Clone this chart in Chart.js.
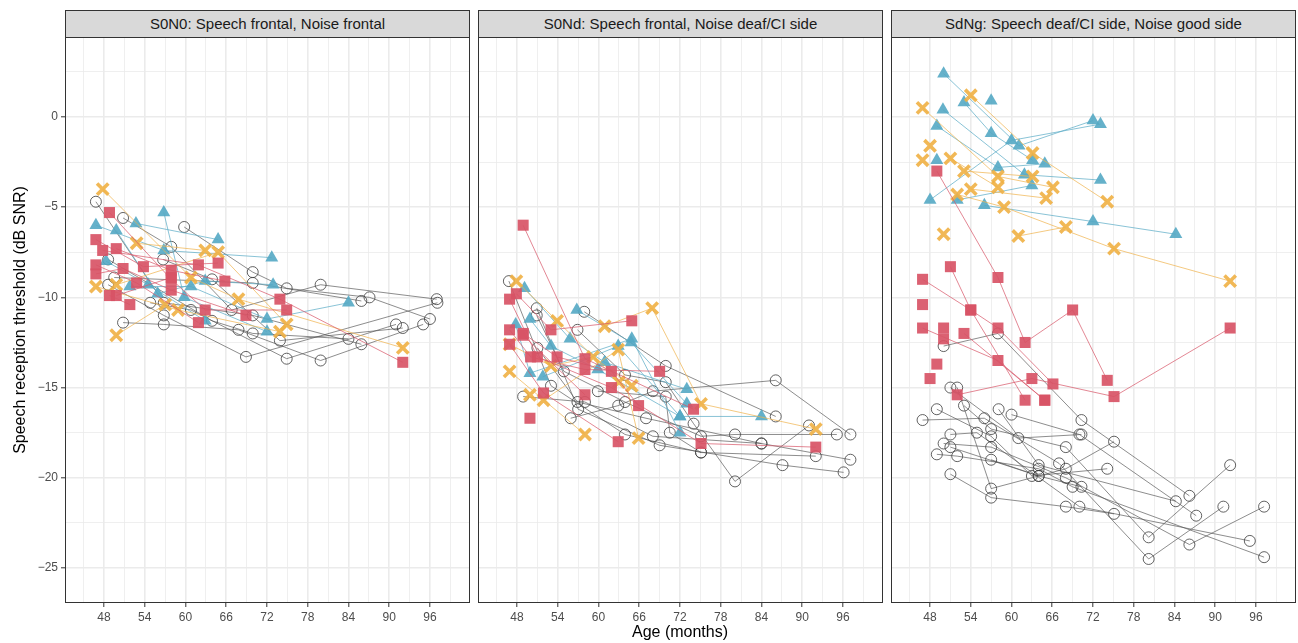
<!DOCTYPE html>
<html><head><meta charset="utf-8">
<script src="https://cdn.jsdelivr.net/npm/chart.js@4.4.0/dist/chart.umd.min.js"></script>
<style>
body{margin:0;width:1298px;height:643px;background:#fff;position:relative;overflow:hidden;font-family:"Liberation Sans",Arial,sans-serif;}
.strip{position:absolute;top:10px;height:28px;width:405px;background:#D9D9D9;border:1px solid #333;box-sizing:border-box;font-size:15px;color:#1a1a1a;text-align:center;line-height:25px;white-space:nowrap;}
canvas{position:absolute;}
#xt{position:absolute;left:480px;width:400px;top:623px;text-align:center;font-size:16px;color:#000;}
#yt{position:absolute;left:20px;top:320px;width:400px;margin-left:-200px;text-align:center;font-size:16px;color:#000;transform:translateY(-50%) rotate(-90deg);}
</style></head>
<body>
<div class="strip" style="left:65px" id="s1"></div>
<div class="strip" style="left:478px" id="s2"></div>
<div class="strip" style="left:891px" id="s3"></div>
<canvas id="c1" width="474" height="614" style="left:0px;top:29px"></canvas>
<canvas id="c2" width="413" height="614" style="left:474px;top:29px"></canvas>
<canvas id="c3" width="413" height="614" style="left:887px;top:29px"></canvas>
<div id="xt">Age (months)</div>
<div id="yt">Speech reception threshold (dB SNR)</div>
<script>
// ---- labels ----
const panelTitles = ["S0N0: Speech frontal, Noise frontal", "S0Nd: Speech frontal, Noise deaf/CI side", "SdNg: Speech deaf/CI side, Noise good side"];
const xMajorTicks = [48, 54, 60, 66, 72, 78, 84, 90, 96];
const yMajorTicks = [0, -5, -10, -15, -20, -25];
const xTitle = "Age (months)";
const yTitle = "Speech reception threshold (dB SNR)";

// ---- data: each inner array = one child's trajectory [age (months), SRT (dB SNR)] ----
// Panel 1: S0N0
const s0n0Grey = [
 [[46.8,-4.7],[56.8,-10.3],[69.9,-11.0],[85.9,-12.6]],
 [[50.8,-5.6],[57.9,-7.2],[66.8,-10.7],[79.9,-9.3],[97.0,-10.1]],
 [[59.8,-6.1],[69.9,-8.6],[74.9,-9.5],[87.1,-10.0],[96.0,-11.2]],
 [[56.7,-7.9],[63.9,-9.0],[73.9,-12.4],[92.0,-11.7]],
 [[48.6,-9.3],[56.8,-11.0],[68.9,-13.3],[97.1,-10.3]],
 [[54.8,-10.3],[60.8,-10.7],[74.9,-13.4],[91.0,-11.5]],
 [[50.8,-11.4],[56.8,-11.5],[67.8,-11.8],[79.9,-13.5],[95.0,-11.5]],
 [[48.6,-7.9],[63.9,-11.3],[69.9,-12.0],[84.0,-12.3]],
 [[49.5,-8.9],[69.9,-9.2],[85.9,-10.2]]
];
const s0n0Red = [
 [[48.8,-5.3],[57.9,-9.0],[62.9,-10.7],[74.9,-10.7]],
 [[46.8,-6.8],[53.8,-8.3],[64.8,-8.1]],
 [[47.8,-7.4],[61.9,-8.2],[73.9,-10.1],[92.0,-13.6]],
 [[49.8,-7.3],[57.9,-8.5],[65.8,-9.1]],
 [[46.8,-8.2],[52.8,-9.2],[61.9,-11.4]],
 [[46.8,-8.7],[50.8,-8.4],[57.9,-9.6],[68.9,-11.0]],
 [[48.8,-9.9],[51.8,-10.4]],
 [[49.8,-9.9],[57.9,-8.9]]
];
const s0n0Blue = [
 [[46.8,-6.0],[56.8,-7.4],[72.7,-7.8]],
 [[56.8,-5.3],[59.8,-10.0],[72.0,-11.9]],
 [[49.8,-6.3],[55.9,-9.8],[62.9,-9.1],[72.9,-9.3]],
 [[52.7,-5.9],[64.8,-6.8]],
 [[51.8,-9.4],[60.8,-9.4],[72.0,-11.2],[84.0,-10.3]],
 [[48.3,-8.0],[54.5,-9.3],[62.9,-11.3]]
];
const s0n0Orange = [
 [[47.8,-4.0],[60.8,-8.9],[67.8,-10.1],[92.0,-12.8]],
 [[52.8,-7.0],[62.9,-7.4]],
 [[46.8,-9.4],[58.9,-10.7],[73.9,-11.9]],
 [[49.8,-9.3],[64.8,-7.5],[74.9,-11.5]],
 [[49.8,-12.1],[57.0,-10.4]]
];
// Panel 2: S0Nd
const s0ndGrey = [
 [[46.8,-9.1],[53.0,-14.9],[63.9,-17.6],[75.1,-18.6],[92.0,-18.8]],
 [[50.9,-10.6],[57.0,-16.2],[69.0,-18.2],[87.1,-19.3],[96.1,-19.7]],
 [[50.9,-11.0],[54.9,-14.1],[63.9,-15.8],[75.1,-17.7],[80.1,-17.6],[95.1,-17.6]],
 [[51.0,-12.8],[56.9,-15.8],[67.0,-16.7],[84.0,-18.1]],
 [[57.9,-10.8],[69.9,-13.8],[86.1,-16.6]],
 [[56.9,-11.8],[63.9,-14.3],[69.9,-14.7],[74.0,-17.0],[80.1,-20.2],[91.0,-17.1]],
 [[48.9,-15.5],[58.0,-15.8],[68.0,-17.7],[84.0,-18.1],[97.1,-19.0]],
 [[55.9,-16.7],[62.9,-16.0],[68.0,-15.2],[86.1,-14.6],[97.1,-17.6]],
 [[59.9,-15.2],[69.9,-15.5],[70.5,-17.5],[75.1,-18.6]]
];
const s0ndRed = [
 [[48.9,-6.0],[58.0,-13.4],[74.0,-16.2]],
 [[47.9,-9.8],[53.0,-11.8],[64.9,-11.3]],
 [[46.9,-10.1],[51.0,-13.3],[61.9,-15.0],[75.1,-18.1],[92.0,-18.3]],
 [[46.9,-11.8],[50.0,-13.3],[58.0,-14.0],[69.0,-14.1]],
 [[48.9,-12.0],[53.9,-13.3],[61.9,-14.1],[65.9,-16.0]],
 [[46.9,-12.6],[51.9,-15.3],[62.9,-18.0]],
 [[48.9,-12.1],[58.0,-15.4]],
 [[49.9,-16.7]]
];
const s0ndBlue = [
 [[49.1,-9.5],[55.8,-12.3],[60.9,-13.6],[73.0,-15.1]],
 [[49.9,-11.2],[53.0,-12.7],[59.9,-14.0],[72.0,-16.6]],
 [[56.8,-10.7],[64.8,-12.5],[73.0,-15.9]],
 [[47.8,-11.5],[49.9,-14.2],[64.9,-12.3],[72.0,-17.5]],
 [[51.8,-14.4],[62.9,-12.7],[72.0,-16.6],[84.0,-16.6]]
];
const s0ndOrange = [
 [[60.9,-11.6],[67.9,-10.6],[75.1,-15.9],[92.0,-17.3]],
 [[47.9,-9.1],[53.9,-11.3],[63.0,-14.7]],
 [[46.9,-12.6],[53.0,-13.8],[59.2,-13.3],[64.9,-14.9]],
 [[46.9,-14.1],[58.0,-17.6]],
 [[51.9,-15.7],[62.9,-12.9],[65.9,-17.8]],
 [[49.9,-15.4]]
];
// Panel 3: SdNg
const sdngGrey = [
 [[46.9,-16.8],[56.0,-16.7],[67.0,-19.2],[80.2,-24.5],[91.2,-21.6]],
 [[52.0,-15.0],[57.0,-20.6],[68.0,-19.5],[75.1,-18.0]],
 [[50.0,-12.7],[58.0,-12.0],[70.3,-16.8],[86.2,-21.0]],
 [[53.0,-16.0],[57.0,-17.3],[68.0,-18.3],[80.2,-23.3],[92.2,-19.3]],
 [[49.0,-16.2],[57.0,-17.7],[63.0,-19.9],[74.1,-19.5]],
 [[60.0,-16.5],[70.0,-17.6],[87.2,-22.1]],
 [[58.1,-16.2],[64.0,-19.3],[84.2,-21.3]],
 [[51.0,-17.6],[54.9,-17.5],[70.0,-21.6],[95.1,-23.5]],
 [[50.0,-18.1],[57.0,-18.3],[68.0,-20.0],[86.2,-23.7],[97.2,-21.6]],
 [[49.0,-18.7],[52.0,-18.8],[64.0,-19.5],[69.0,-20.5],[97.2,-24.4]],
 [[51.0,-19.8],[57.0,-21.1],[68.0,-21.6],[75.1,-22.0]],
 [[57.0,-19.0],[64.0,-19.9],[70.3,-20.5]],
 [[51.0,-15.0],[61.0,-17.8],[70.3,-17.6]],
 [[51.0,-18.3],[64.0,-19.9]]
];
const sdngRed = [
 [[49.0,-3.0],[58.0,-8.9],[62.0,-12.5],[69.0,-10.7],[74.1,-14.6]],
 [[52.0,-15.4],[63.0,-14.5],[75.1,-15.5],[92.2,-11.7]],
 [[46.9,-9.0],[54.0,-10.7],[58.0,-11.7],[66.1,-14.8]],
 [[51.0,-8.3],[54.0,-10.7],[62.0,-15.7]],
 [[46.9,-11.7],[58.0,-13.5],[64.9,-15.7]],
 [[53.0,-12.0],[64.9,-15.7]],
 [[50.0,-11.7]],[[50.0,-12.3]],[[46.9,-10.4]],[[49.0,-13.7]],[[48.0,-14.5]]
];
const sdngBlue = [
 [[50.0,2.4],[61.1,-1.6],[72.0,-0.2]],
 [[48.0,-4.6],[60.0,-1.3],[73.1,-0.4]],
 [[53.0,0.8],[57.0,-0.9],[63.1,-2.4]],
 [[49.9,0.4],[61.9,-3.2],[73.1,-3.5]],
 [[49.0,-0.5],[58.0,-2.8],[64.9,-2.6]],
 [[52.0,-4.6],[63.0,-3.8]],
 [[56.0,-4.9],[72.0,-5.8],[84.2,-6.5]],
 [[57.0,0.9]],[[49.0,-2.4]]
];
const sdngOrange = [
 [[54.0,1.2],[63.1,-2.0],[74.1,-4.7]],
 [[46.9,0.5],[58.0,-3.3],[66.1,-3.9]],
 [[53.0,-3.0],[63.1,-3.3]],
 [[54.0,-4.0],[65.1,-4.5]],
 [[52.0,-4.3],[58.9,-5.0],[75.1,-7.3],[92.2,-9.1]],
 [[61.0,-6.6],[68.0,-6.1]],
 [[51.0,-2.3],[58.0,-3.9]],
 [[48.0,-1.6]],[[46.9,-2.4]],[[50.0,-6.5]]
];

// ---- styling ----
const FONT = '"Liberation Sans", Arial, sans-serif';
const X_MIN = 42.25, X_MAX = 101.9, Y_MIN = -26.94, Y_MAX = 4.43;
const groupStyles = {
  grey:   {line:'rgba(85,85,85,0.75)', point:{pointStyle:'circle', pointRadius:5.5, pointBackgroundColor:'rgba(0,0,0,0)', pointBorderColor:'rgba(60,60,60,0.8)', pointBorderWidth:1}, order:4},
  blue:   {line:'rgba(90,172,198,0.8)', point:{pointStyle:'triangle', pointRadius:7.5, pointBackgroundColor:'rgba(84,168,196,0.9)', pointBorderColor:'rgba(84,168,196,0.9)', pointBorderWidth:0}, order:3},
  orange: {line:'rgba(240,180,80,0.8)', point:{pointStyle:'crossRot', pointRadius:8, pointBackgroundColor:'rgba(239,176,68,0.9)', pointBorderColor:'rgba(239,176,68,0.9)', pointBorderWidth:3.6}, order:2},
  red:    {line:'rgba(216,88,106,0.8)', point:{pointStyle:'rect', pointRadius:7.8, pointBackgroundColor:'rgba(216,84,102,0.92)', pointBorderColor:'rgba(216,84,102,0.92)', pointBorderWidth:0}, order:1}
};

function buildDatasets(groups){
  const ds = [];
  for (const [g, trajs] of groups){
    const st = groupStyles[g];
    trajs.forEach(t => {
      ds.push(Object.assign({
        data: t.map(p => ({x:p[0], y:p[1]})),
        showLine: true,
        borderColor: st.line,
        borderWidth: 0.9,
        order: st.order
      }, st.point));
    });
  }
  return ds;
}

const boxPlugin = {
  id:'box',
  afterDraw(chart){
    const a = chart.chartArea, ctx = chart.ctx;
    ctx.save();
    ctx.strokeStyle = '#333333'; ctx.lineWidth = 1;
    ctx.strokeRect(Math.round(a.left)+0.5, Math.round(a.top)+0.5, Math.round(a.right-a.left)-1, Math.round(a.bottom-a.top)-1);
    ctx.restore();
  }
};

const isMajorX = v => xMajorTicks.includes(v);
const isMajorY = v => yMajorTicks.includes(v);
const fmt = v => v < 0 ? '\u2212' + Math.abs(v) : String(v);
const zeroPad = s => { s.paddingLeft = 0; s.paddingRight = 0; s.paddingTop = 0; s.paddingBottom = 0; };

function makePanel(canvasId, groups, showY){
  const xGrid = [];
  for (let v = 45; v <= 99; v += 3) xGrid.push(v);
  const yGrid = [];
  for (let v = -25; v <= 2.5; v += 2.5) yGrid.push(v);
  new Chart(document.getElementById(canvasId), {
    type:'scatter',
    data:{datasets: buildDatasets(groups)},
    options:{
      responsive:false, animation:false, maintainAspectRatio:false,
      layout:{autoPadding:false, padding:{top:8, right:4, left:0, bottom:0}},
      plugins:{legend:{display:false}, tooltip:{enabled:false}},
      scales:{
        x:{
          type:'linear', min:X_MIN, max:X_MAX,
          afterBuildTicks: s => { s.ticks = xGrid.map(v => ({value:v})); },
          afterFit: s => { s.height = 40; zeroPad(s); },
          ticks:{autoSkip:false, maxRotation:0, minRotation:0, padding:3, color:'#4D4D4D', font:{size:12, family:FONT},
                 callback: v => isMajorX(v) ? String(v) : ''},
          grid:{color:'#EBEBEB', lineWidth: c => (c.tick && isMajorX(c.tick.value)) ? 1.6 : 0.8,
                tickLength:4, tickWidth:1, tickColor: c => (c.tick && isMajorX(c.tick.value)) ? '#333333' : 'rgba(0,0,0,0)'},
          border:{display:false}
        },
        y:{
          type:'linear', min:Y_MIN, max:Y_MAX,
          afterBuildTicks: s => { s.ticks = yGrid.map(v => ({value:v})); },
          afterFit: s => { s.width = showY ? 65 : 4; zeroPad(s); },
          ticks:{display:showY, autoSkip:false, padding:3, color:'#4D4D4D', font:{size:12, family:FONT},
                 callback: v => isMajorY(v) ? fmt(v) : ''},
          grid:{color:'#EBEBEB', lineWidth: c => (c.tick && isMajorY(c.tick.value)) ? 1.6 : 0.8,
                drawTicks: showY, tickLength:4, tickWidth:1,
                tickColor: c => (c.tick && isMajorY(c.tick.value)) ? '#333333' : 'rgba(0,0,0,0)'},
          border:{display:false}
        }
      }
    },
    plugins:[boxPlugin]
  });
}

document.getElementById('s1').textContent = panelTitles[0];
document.getElementById('s2').textContent = panelTitles[1];
document.getElementById('s3').textContent = panelTitles[2];
document.getElementById('xt').textContent = xTitle;
document.getElementById('yt').textContent = yTitle;

makePanel('c1', [['grey',s0n0Grey],['blue',s0n0Blue],['orange',s0n0Orange],['red',s0n0Red]], true);
makePanel('c2', [['grey',s0ndGrey],['blue',s0ndBlue],['orange',s0ndOrange],['red',s0ndRed]], false);
makePanel('c3', [['grey',sdngGrey],['blue',sdngBlue],['orange',sdngOrange],['red',sdngRed]], false);
</script>
</body></html>
